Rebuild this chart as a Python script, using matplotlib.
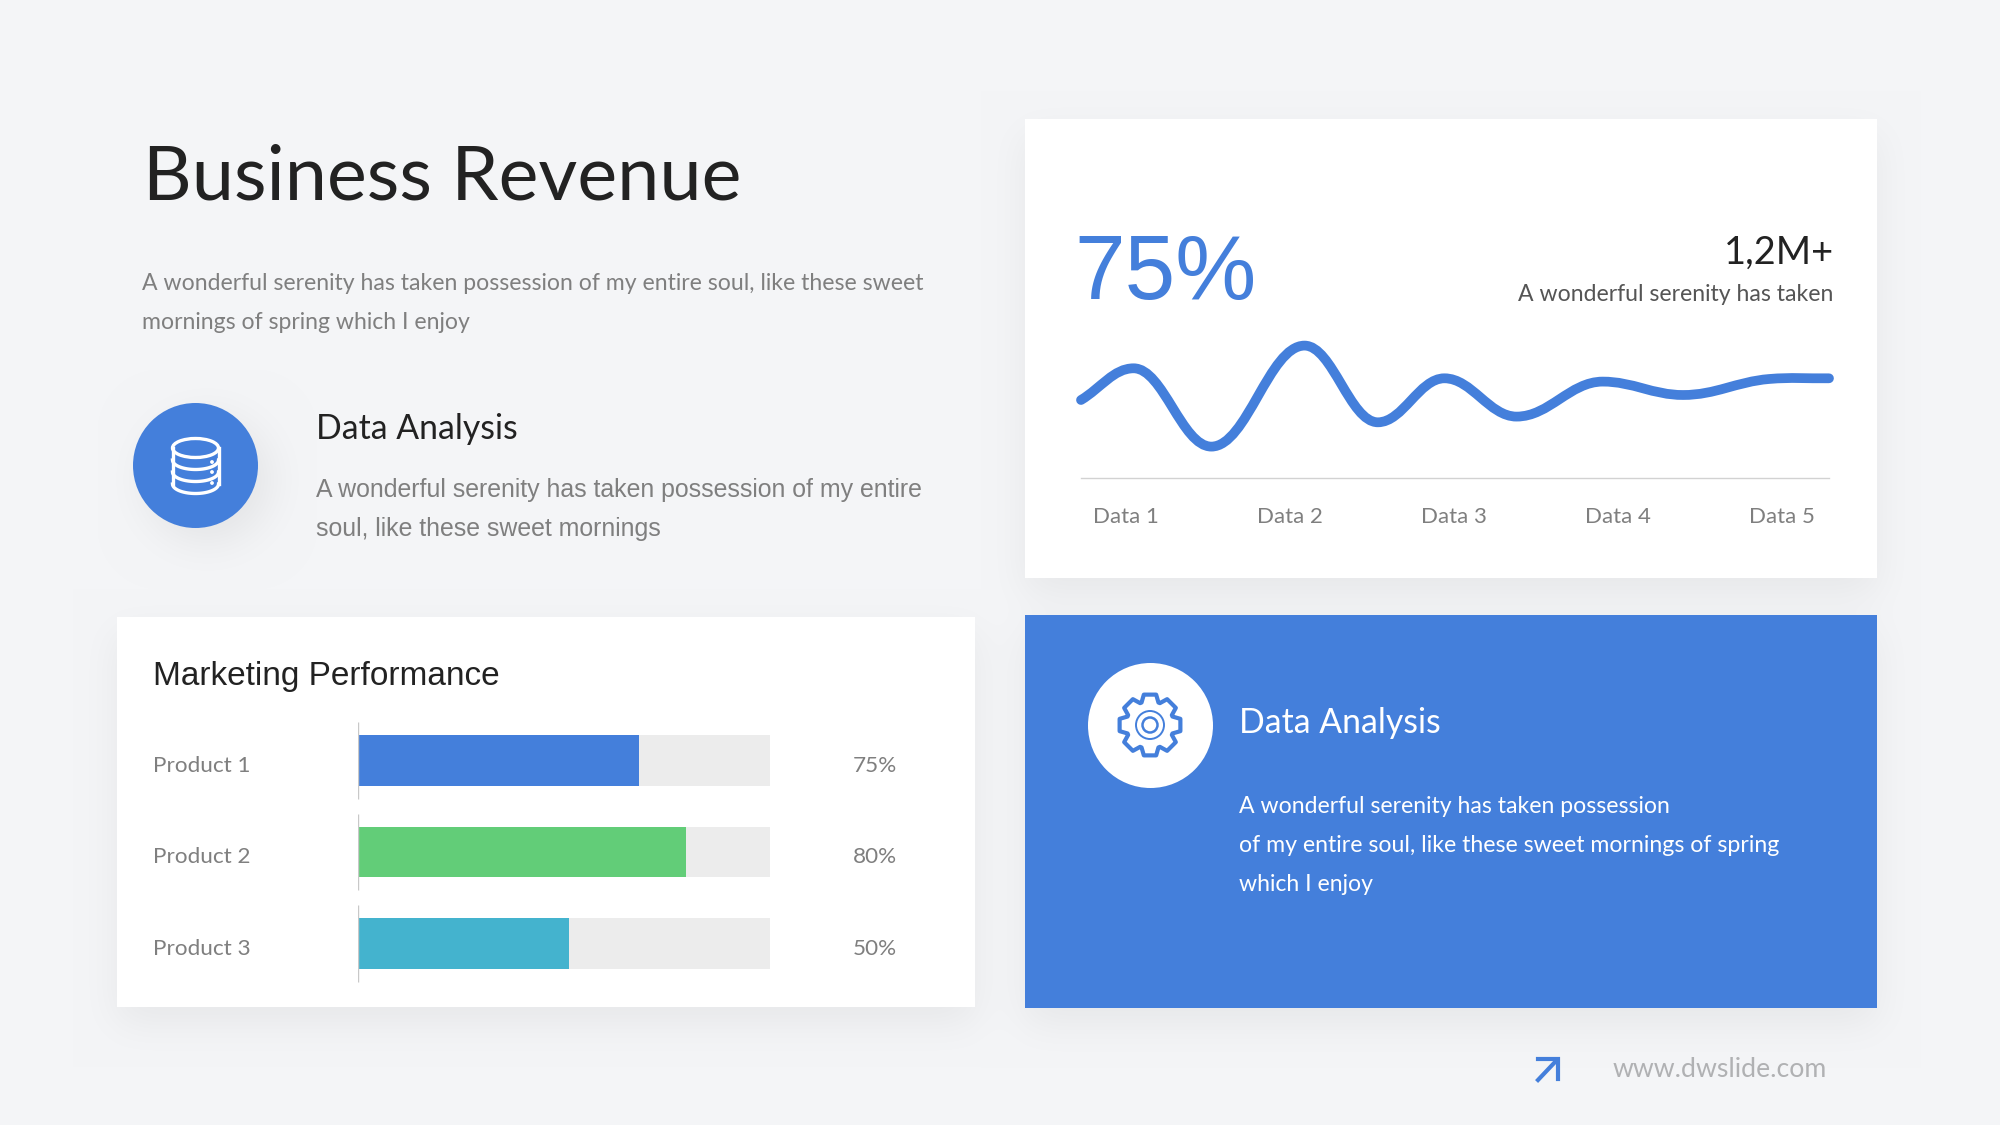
import numpy as np
import matplotlib
matplotlib.use("Agg")
import matplotlib.pyplot as plt
from matplotlib.patches import Rectangle, Circle, Ellipse, Polygon, PathPatch
from matplotlib.path import Path

# --------------------------------------------------
# Values
# --------------------------------------------------
LINE_LABELS = ["Data 1", "Data 2", "Data 3", "Data 4", "Data 5"]
LINE_X = [-0.277, 0.044, 0.518, 1.086, 1.533, 1.939, 2.379, 2.904, 3.394, 3.919, 4.284]
LINE_Y = [78.3, 110, 31.7, 132.7, 56, 100, 61.7, 96.7, 83.3, 99.3, 100]

PRODUCTS = ["Product 1", "Product 2", "Product 3"]
BAR_VALUES = [68.2, 79.6, 51.2]
BAR_TEXT = ["75%", "80%", "50%"]

# --------------------------------------------------
# Styles
# --------------------------------------------------
BG = "#f4f5f7"
BLUE = "#447fdb"
BAR_COLORS = [BLUE, "#62cd78", "#44b3ce"]
TRACK = "#ececec"
DARK = "#222222"
GRAY = "#7f7f7f"
CALIBRI = ["Lato", "DejaVu Sans"]
ARIAL = ["Liberation Sans", "DejaVu Sans"]

W, H = 2000, 1125


def rect(x0, y0, x1, y1):
    return [x0 / W, 1 - y1 / H, (x1 - x0) / W, (y1 - y0) / H]


def box_blur(a, r, axis):
    kernel = np.ones(2 * r + 1) / (2 * r + 1)
    return np.apply_along_axis(lambda v: np.convolve(v, kernel, mode="same"), axis, a)


def soft(mask, r):
    for _ in range(2):
        mask = box_blur(mask, r, 0)
        mask = box_blur(mask, r, 1)
    return mask


def smooth_path(xs, ys):
    # smooth curve through the read points: bezier segments, flat at peaks and troughs
    xs = np.asarray(xs, dtype=float)
    ys = np.asarray(ys, dtype=float)
    slopes = np.gradient(ys, xs)
    for i in range(1, len(xs) - 1):
        if (ys[i] - ys[i - 1]) * (ys[i + 1] - ys[i]) <= 0:
            slopes[i] = 0
    verts = [(xs[0], ys[0])]
    codes = [Path.MOVETO]
    for i in range(len(xs) - 1):
        h = (xs[i + 1] - xs[i]) * 0.38
        verts += [
            (xs[i] + h, ys[i] + h * slopes[i]),
            (xs[i + 1] - h, ys[i + 1] - h * slopes[i + 1]),
            (xs[i + 1], ys[i + 1]),
        ]
        codes += [Path.CURVE4] * 3
    return Path(verts, codes)


fig = plt.figure(figsize=(20, 11.25), dpi=100, facecolor=BG)

bg = fig.add_axes([0, 0, 1, 1], zorder=0)

# --------------------------------------------------
# Background with soft shadows
# --------------------------------------------------
yy, xx = np.mgrid[0:H, 0:W]
cards = np.zeros((H, W))
cards[119 + 16:578 + 16, 1025:1877] = 1
cards[617 + 16:1007 + 16, 117:975] = 1
cards[615 + 16:1008 + 16, 1025:1877] = 1
shadow = soft(cards, 22) * 0.055
dot = ((xx - 207) ** 2 + (yy - 479) ** 2 < 62 ** 2).astype(float)
shadow = shadow + soft(dot, 24) * 0.07

base = np.array(matplotlib.colors.to_rgb(BG))
img = base[None, None, :] * (1 - shadow[:, :, None])
bg.imshow(img, extent=(0, W, H, 0), interpolation="nearest", aspect="auto", zorder=0)
bg.set_xlim(0, W)
bg.set_ylim(H, 0)
bg.axis("off")


def txt(x, y, s, size, color, family=CALIBRI, ha="left"):
    bg.text(x, y, s, fontsize=size, color=color, family=family,
            ha=ha, va="baseline", zorder=5)


# --------------------------------------------------
# Cards
# --------------------------------------------------
bg.add_patch(Rectangle((1025, 119), 852, 459, facecolor="white", zorder=2))
bg.add_patch(Rectangle((117, 617), 858, 390, facecolor="white", zorder=2))
bg.add_patch(Rectangle((1025, 615), 852, 393, facecolor=BLUE, zorder=2))

# --------------------------------------------------
# Left text block
# --------------------------------------------------
txt(143, 199, "Business Revenue", 54.4, DARK)
txt(142, 290, "A wonderful serenity has taken possession of my entire soul, like these sweet", 16.6, GRAY)
txt(142, 329, "mornings of spring which I enjoy", 16.6, GRAY)

bg.add_patch(Circle((195.5, 465.5), 62.5, facecolor=BLUE, zorder=3))
txt(316, 439, "Data Analysis", 24.3, DARK)
txt(316, 497, "A wonderful serenity has taken possession of my entire", 17.95, GRAY, family=ARIAL)
txt(316, 536, "soul, like these sweet mornings", 17.95, GRAY, family=ARIAL)

# database icon
bg.add_patch(Ellipse((195.5, 448), 46, 19, facecolor="none",
                     edgecolor="white", lw=2.4, zorder=4))
bg.plot([172.5, 172.5], [448, 484], color="white", lw=2.4, zorder=4)
bg.plot([218.5, 218.5], [448, 484], color="white", lw=2.4, zorder=4)
theta = np.linspace(np.pi, 0, 40)
for yc in (460, 472, 484):
    bg.plot(195.5 + 23 * np.cos(theta), yc + 9.5 * np.sin(theta),
            color="white", lw=2.4, zorder=4)
for yc in (462, 472, 483):
    bg.add_patch(Circle((212, yc), 1.9, facecolor="white", zorder=4))

# --------------------------------------------------
# Line card
# --------------------------------------------------
txt(1074, 299, "75%", 65.5, BLUE, family=ARIAL)
txt(1834, 264, "1,2M+", 27.4, DARK, ha="right")
txt(1833, 301, "A wonderful serenity has taken", 16.6, "#555555", ha="right")

ax_line = fig.add_axes(rect(1081, 338.3, 1829, 478.3), zorder=3)
ax_line.patch.set_alpha(0)
ax_line.add_patch(PathPatch(smooth_path(LINE_X, LINE_Y), facecolor="none", edgecolor=BLUE,
                            lw=7, capstyle="round", joinstyle="round", clip_on=False))
ax_line.set_xlim(-0.277, 4.284)
ax_line.set_ylim(0, 140)
for side in ("top", "left", "right"):
    ax_line.spines[side].set_visible(False)
ax_line.spines["bottom"].set_color("#d2d2d2")
ax_line.spines["bottom"].set_linewidth(1)
ax_line.set_yticks([])
ax_line.set_xticks(range(len(LINE_LABELS)))
ax_line.set_xticklabels(LINE_LABELS, family=CALIBRI, fontsize=16, color=GRAY)
ax_line.tick_params(axis="x", length=0, pad=21)

# --------------------------------------------------
# Bar card
# --------------------------------------------------
txt(153, 685, "Marketing Performance", 24, DARK, family=ARIAL)

ax_bar = fig.add_axes(rect(358, 714.75, 770, 989.25), zorder=3)
ax_bar.axis("off")
ypos = np.arange(len(PRODUCTS))
ax_bar.barh(ypos, [100] * len(PRODUCTS), height=0.557, color=TRACK)
ax_bar.barh(ypos, BAR_VALUES, height=0.557, color=BAR_COLORS)
ax_bar.vlines(ypos * 0, ypos - 0.42, ypos + 0.42, color="#c8c8c8", lw=1)
ax_bar.set_xlim(0, 100)
ax_bar.set_ylim(2.5, -0.5)
for i, name in enumerate(PRODUCTS):
    ax_bar.text(-49.8, i + 0.055, name, family=CALIBRI, fontsize=16.2, color=GRAY,
                va="center", clip_on=False)
    ax_bar.text(120.1, i + 0.055, BAR_TEXT[i], family=CALIBRI, fontsize=16.2, color=GRAY,
                va="center", clip_on=False)

# --------------------------------------------------
# Blue card
# --------------------------------------------------
bg.add_patch(Circle((1150.5, 725.5), 62.5, facecolor="white", zorder=3))
txt(1239, 733, "Data Analysis", 24.3, "white")
txt(1239, 813, "A wonderful serenity has taken possession", 16.6, "white")
txt(1239, 852, "of my entire soul, like these sweet mornings of spring", 16.65, "white")
txt(1239, 891, "which I enjoy", 16.6, "white")

# gear icon outline
gear_pts = []
for k in range(8):
    c = k * np.pi / 4 - np.pi / 2
    for da, r in ((-0.36, 24), (-0.2, 31), (0.2, 31), (0.36, 24)):
        gear_pts.append((1150 + r * np.cos(c + da), 725 + r * np.sin(c + da)))
bg.add_patch(Polygon(gear_pts, closed=True, facecolor="none", edgecolor=BLUE,
                     lw=3, joinstyle="round", zorder=4))
bg.add_patch(Circle((1150, 725), 14, facecolor="none", edgecolor=BLUE, lw=1.4, zorder=4))
bg.add_patch(Circle((1150, 725), 7.5, facecolor="none", edgecolor=BLUE, lw=1.8, zorder=4))

# --------------------------------------------------
# Footer
# --------------------------------------------------
bg.plot([1538, 1556], [1080, 1061], color=BLUE, lw=3, zorder=4)
bg.plot([1538, 1558, 1558], [1059, 1059, 1079], color=BLUE, lw=3,
        solid_joinstyle="miter", zorder=4)
txt(1827, 1077, "www.dwslide.com", 19.2, "#b0b1b3", ha="right")

fig.savefig("out.png", dpi=100, facecolor=BG)
